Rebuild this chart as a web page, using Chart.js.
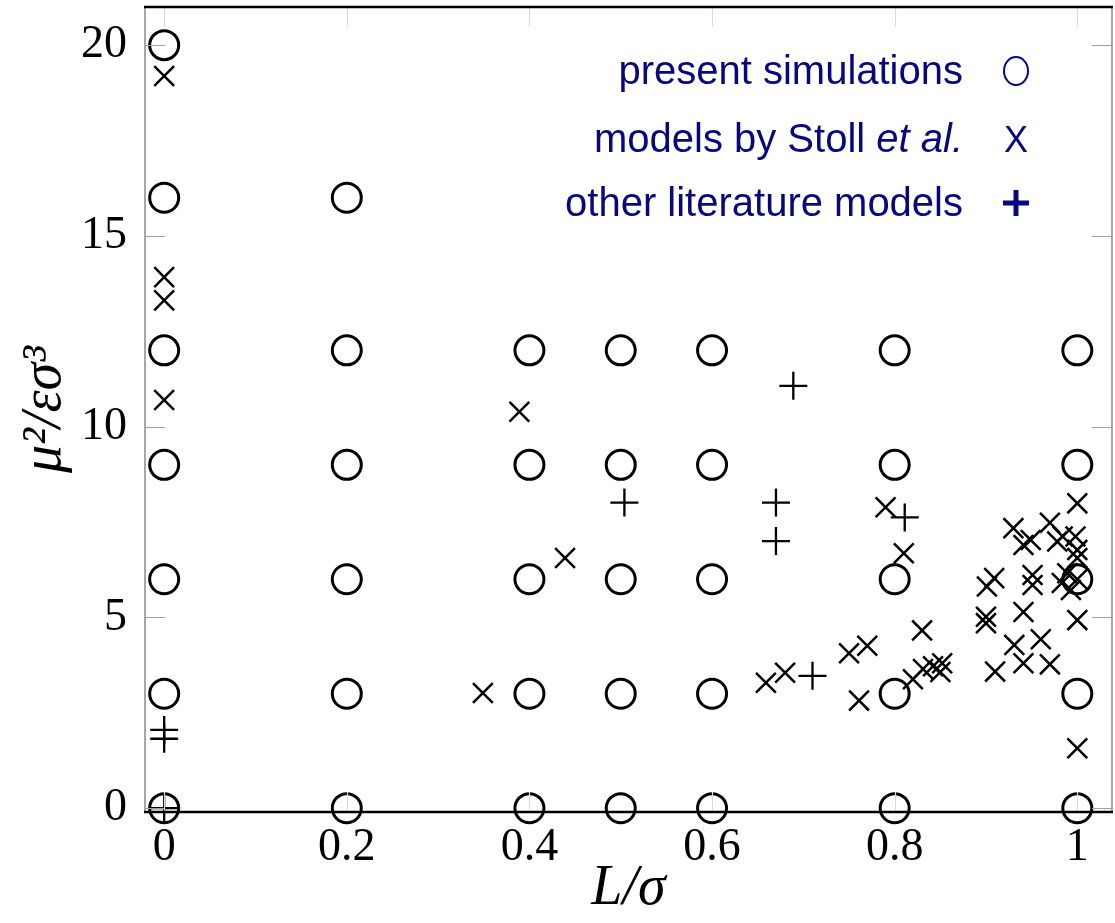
<!DOCTYPE html>
<html>
<head>
<meta charset="utf-8">
<title>Dipole strength vs elongation</title>
<script src="https://cdn.jsdelivr.net/npm/chart.js@4.4.1/dist/chart.umd.min.js"></script>
<style>
  html, body { margin: 0; padding: 0; background: #fff; }
  #chart { display: block; }
</style>
</head>
<body>
<canvas id="chart" width="1115" height="923"></canvas>
<script>
// present simulations (circles)
const simL  = [0, 0, 0, 0, 0, 0, 0,
               0.2, 0.2, 0.2, 0.2, 0.2, 0.2,
               0.4, 0.4, 0.4, 0.4, 0.4,
               0.5, 0.5, 0.5, 0.5, 0.5,
               0.6, 0.6, 0.6, 0.6, 0.6,
               0.8, 0.8, 0.8, 0.8, 0.8,
               1, 1, 1, 1, 1];
const simMu = [0, 3, 6, 9, 12, 16, 20,
               0, 3, 6, 9, 12, 16,
               0, 3, 6, 9, 12,
               0, 3, 6, 9, 12,
               0, 3, 6, 9, 12,
               0, 3, 6, 9, 12,
               0, 3, 6, 9, 12];

// models by Stoll et al. (x marks)
const stollL  = [0, 0, 0, 0,
                 0.389, 0.439, 0.349,
                 0.659, 0.680, 0.750, 0.770, 0.761,
                 0.790, 0.810, 0.830,
                 0.820, 0.831, 0.842, 0.850, 0.852,
                 0.910, 0.941, 0.970, 0.931, 0.960, 0.941,
                 0.900, 0.900, 1.0, 1.0, 1.0,
                 0.930, 0.970, 0.941, 0.949, 0.978, 0.984, 0.998, 1.0, 1.0,
                 0.901, 0.909, 0.951, 0.951, 0.989, 0.993, 0.983, 1.0];
const stollMu = [19.19, 13.92, 13.31, 10.70,
                 10.39, 6.56, 3.02,
                 3.29, 3.55, 4.06, 4.26, 2.82,
                 7.89, 6.68, 4.66,
                 3.38, 3.65, 3.72, 3.57, 3.80,
                 3.58, 3.80, 3.77, 4.28, 4.43, 5.14,
                 5.02, 4.85, 4.93, 1.57, 7.99,
                 7.34, 7.48, 6.90, 7.03, 6.99, 7.12, 7.12, 6.77, 6.56,
                 5.81, 6.03, 6.11, 5.85, 6.16, 5.72, 5.90, 6.0];

// other literature models (plus marks)
const otherL  = [0, 0, 0, 0.504, 0.689, 0.670, 0.670, 0.811, 0.710];
const otherMu = [0, 2.05, 1.82, 8.01, 11.07, 8.01, 7.0, 7.62, 3.47];

// axis ticks
const xTicks = [0, 0.2, 0.4, 0.6, 0.8, 1];
const yTicks = [0, 5, 10, 15, 20];

const legendLabels = ['present simulations', 'models by Stoll', 'other literature models'];

const toPoints = (xs, ys) => xs.map((x, i) => ({ x: x, y: ys[i] }));

const navy = '#07077f';
const serif = '"Liberation Serif", "DejaVu Serif", serif';
const sans = '"Liberation Sans", Arial, sans-serif';

// box around the plot with short inward tick marks on every side
const framePlugin = {
    id: 'frame',
    afterDatasetsDraw(chart) {
        const { ctx, chartArea: a, scales } = chart;
        ctx.save();
        ctx.lineWidth = 1.2;
        ctx.strokeStyle = '#a0a0a0';
        yTicks.forEach(v => {
            const y = Math.round(scales.y.getPixelForValue(v)) + 0.5;
            ctx.beginPath();
            ctx.moveTo(a.left, y); ctx.lineTo(a.left + 20, y);
            ctx.moveTo(a.right, y); ctx.lineTo(a.right - 20, y);
            ctx.stroke();
        });
        ctx.strokeStyle = '#dcdcdc';
        xTicks.forEach(v => {
            const x = Math.round(scales.x.getPixelForValue(v)) + 0.5;
            ctx.beginPath();
            ctx.moveTo(x, a.top); ctx.lineTo(x, a.top + 20);
            ctx.moveTo(x, a.bottom); ctx.lineTo(x, a.bottom - 20);
            ctx.stroke();
        });
        // left and right sides are thin grey, top and bottom are black
        ctx.strokeStyle = '#8a8a8a';
        ctx.lineWidth = 1.5;
        ctx.beginPath();
        ctx.moveTo(a.left, a.top); ctx.lineTo(a.left, a.bottom);
        ctx.moveTo(a.right, a.top); ctx.lineTo(a.right, a.bottom);
        ctx.stroke();
        ctx.strokeStyle = '#000';
        ctx.lineWidth = 2.5;
        ctx.beginPath();
        ctx.moveTo(a.left - 1, a.top); ctx.lineTo(a.right + 1, a.top);
        ctx.moveTo(a.left - 1, a.bottom); ctx.lineTo(a.right + 1, a.bottom);
        ctx.stroke();
        ctx.restore();
    }
};

// legend: right-aligned labels with the marker to their right
const legendPlugin = {
    id: 'keyBox',
    afterDraw(chart) {
        const { ctx } = chart;
        const textRight = 963;
        const markX = 1016;
        const rows = [84, 152, 216];
        ctx.save();
        ctx.fillStyle = navy;
        ctx.strokeStyle = navy;
        ctx.textBaseline = 'alphabetic';
        ctx.textAlign = 'right';
        ctx.font = '40px ' + sans;
        ctx.fillText(legendLabels[0], textRight, rows[0]);
        ctx.fillText(legendLabels[2], textRight, rows[2]);

        ctx.font = 'italic 40px ' + sans;
        const etal = 'et al.';
        ctx.fillText(etal, textRight, rows[1]);
        const w = ctx.measureText(etal).width;
        ctx.font = '40px ' + sans;
        ctx.fillText(legendLabels[1] + ' ', textRight - w, rows[1]);

        // markers
        ctx.lineWidth = 2;
        ctx.beginPath();
        ctx.ellipse(markX, rows[0] - 13, 12, 14, 0, 0, Math.PI * 2);
        ctx.stroke();
        ctx.textAlign = 'center';
        ctx.font = '36px ' + sans;
        ctx.fillText('X', markX, rows[1]);
        ctx.lineWidth = 5;
        ctx.beginPath();
        ctx.moveTo(markX - 13, rows[2] - 13); ctx.lineTo(markX + 13, rows[2] - 13);
        ctx.moveTo(markX, rows[2] - 26); ctx.lineTo(markX, rows[2]);
        ctx.stroke();
        ctx.restore();
    }
};

new Chart(document.getElementById('chart'), {
    type: 'scatter',
    data: {
        datasets: [
            {
                label: 'present simulations',
                data: toPoints(simL, simMu),
                pointStyle: 'circle',
                pointRadius: 14.5,
                borderWidth: 3,
                borderColor: '#000',
                backgroundColor: 'rgba(0,0,0,0)',
                clip: false
            },
            {
                label: 'models by Stoll et al.',
                data: toPoints(stollL, stollMu),
                pointStyle: 'crossRot',
                pointRadius: 14,
                borderWidth: 2.5,
                borderColor: '#000',
                clip: false
            },
            {
                label: 'other literature models',
                data: toPoints(otherL, otherMu),
                pointStyle: 'cross',
                pointRadius: 14,
                borderWidth: 2.3,
                borderColor: '#000',
                clip: false
            }
        ]
    },
    options: {
        responsive: false,
        devicePixelRatio: 1,
        animation: false,
        events: [],
        layout: { autoPadding: false, padding: { top: 7, right: 3, left: 0, bottom: 0 } },
        plugins: {
            legend: { display: false },
            tooltip: { enabled: false }
        },
        scales: {
            x: {
                type: 'linear',
                min: -0.021,
                max: 1.038,
                afterBuildTicks: s => { s.ticks = xTicks.map(v => ({ value: v })); },
                afterFit: s => { s.height = 111; s.paddingLeft = 0; s.paddingRight = 0; },
                grid: { display: false, drawTicks: false },
                border: { display: false },
                ticks: {
                    autoSkip: false,
                    maxRotation: 0,
                    padding: 8,
                    color: '#000',
                    font: { family: serif, size: 46 },
                    callback: v => String(v)
                },
                title: {
                    display: true,
                    text: 'L/σ',
                    color: '#000',
                    font: { family: serif, size: 56, style: 'italic' },
                    padding: { top: 0, bottom: 0 }
                }
            },
            y: {
                type: 'linear',
                min: -0.1,
                max: 21,
                afterBuildTicks: s => { s.ticks = yTicks.map(v => ({ value: v })); },
                afterFit: s => { s.width = 145; s.paddingTop = 0; s.paddingBottom = 0; },
                grid: { display: false, drawTicks: false },
                border: { display: false },
                ticks: {
                    padding: 18,
                    color: '#000',
                    font: { family: serif, size: 46 },
                    callback: v => String(v)
                },
                title: {
                    display: true,
                    text: 'μ²/εσ³',
                    color: '#000',
                    font: { family: serif, size: 56, style: 'italic' },
                    padding: { top: 12, bottom: 0 }
                }
            }
        }
    },
    plugins: [framePlugin, legendPlugin]
});
</script>
</body>
</html>
